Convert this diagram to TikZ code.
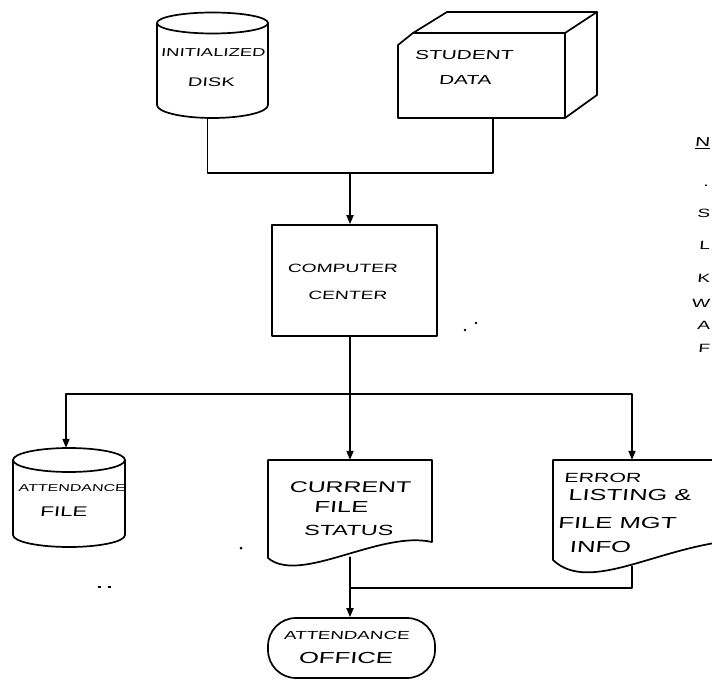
\documentclass[tikz,border=0pt]{standalone}
\usepackage{fontspec}
\newfontfamily\hand{Liberation Sans}[FakeStretch=1.6,FakeSlant=0.1]
\newcommand\handat[1]{\hand\fontsize{#1}{#1}\selectfont}
\usetikzlibrary{arrows.meta}

\tikzset{
  pen/.style={line width=1.7pt, line join=round, line cap=round},
  flow/.style={pen, -{Triangle[length=9pt,width=7pt]}},
  box/.style={draw, pen, inner sep=0pt},
  area/.style={inner sep=0pt},
  lbl/.style={inner sep=0pt},
}

\begin{document}
\begin{tikzpicture}[x=1pt,y=-1pt]
\useasboundingbox (0,0) rectangle (712,682);
\clip (0,0) rectangle (712,682);

% inputs
\node[area, minimum width=111pt, minimum height=105pt] (ini) at (212.5,65.5) {};
\draw[pen] (212.5,23) ellipse [x radius=55.5, y radius=10.5];
\draw[pen] (157,23) -- (157,105) arc[start angle=180, end angle=0, x radius=55.5, y radius=13] -- (268,23);
\node[lbl, font=\handat{11.5}] (ini-1) at (213,53) {INITIALIZED};
\node[lbl, font=\handat{12.5}] (ini-2) at (211,82) {DISK};

\node[area, minimum width=167pt, minimum height=85pt] (sd) at (481.5,75.5) {};
\draw[pen] (398,45) -- (413,33) -- (565,33) -- (565,118) -- (398,118) -- cycle;
\draw[pen] (413,33) -- (447,12) -- (597,12) -- (565,33);
\draw[pen] (597,12) -- (597,95) -- (565,118);
\node[lbl, font=\handat{13}] (sd-1) at (464,55) {STUDENT};
\node[lbl, font=\handat{13}] (sd-2) at (465,80) {DATA};

% processing
\node[box, minimum width=165pt, minimum height=111pt] (cc) at (354.5,280.5) {};
\node[lbl, font=\handat{12}] (cc-1) at (342.5,268) {COMPUTER};
\node[lbl, font=\handat{12}] (cc-2) at (347.5,295) {CENTER};

% outputs
\node[area, minimum width=112pt, minimum height=99pt] (att) at (69,497.5) {};
\draw[pen] (69,460) ellipse [x radius=56, y radius=12];
\draw[pen] (13,460) -- (13,535) arc[start angle=180, end angle=0, x radius=56, y radius=12] -- (125,460);
\node[lbl, font=\handat{10}] (att-1) at (72,488) {ATTENDANCE};
\node[lbl, font=\handat{14}] (att-2) at (63.5,512) {FILE};

\node[area, minimum width=164pt, minimum height=100pt] (cur) at (350,510) {};
\draw[pen] (432,542) -- (432,460) -- (268,460) -- (268,558) .. controls (300,585) and (380,530) .. (432,542);
\node[lbl, font=\handat{15.5}] (cur-1) at (350,487) {CURRENT};
\node[lbl, font=\handat{16}] (cur-2) at (341,507) {FILE};
\node[lbl, font=\handat{14.7}] (cur-3) at (348.5,530) {STATUS};

\node[area, minimum width=187pt, minimum height=100pt] (err) at (646.5,510) {};
\draw[pen] (740,460) -- (553,460) -- (553,560) .. controls (590,595) and (660,545) .. (740,540);
\node[lbl, font=\handat{13.3}] (err-1) at (602.5,478) {ERROR};
\node[lbl, font=\handat{15.9}] (err-2) at (629.5,495) {LISTING \&};
\node[lbl, font=\handat{16}] (err-3) at (617,523) {FILE MGT};
\node[lbl, font=\handat{16}] (err-4) at (600,547) {INFO};

\node[box, rounded corners=28pt, minimum width=167pt, minimum height=60pt] (off) at (351.5,648) {};
\node[lbl, font=\handat{11.7}] (off-1) at (346.5,635) {ATTENDANCE};
\node[lbl, font=\handat{16}] (off-2) at (345.5,658) {OFFICE};

% connectors
\coordinate (j1) at (350,173);
\coordinate (j2) at (350,394);
\coordinate (j3) at (350,588);
\draw[pen] ([xshift=-5pt]ini.south) |- (j1) -| ([xshift=11.5pt]sd.south);
\draw[flow] (j1) -- (j1 |- cc.north);
\draw[flow] (cc.south -| cur.north) -- (cur.north);
\draw[flow] (j2) -| ([xshift=-3pt]att.north);
\draw[flow] (j2) -| ([xshift=-14.5pt]err.north);
\draw[pen] ([xshift=-14.5pt,yshift=-6pt]err.south) |- (j3);
\draw[flow] ([yshift=3pt]cur.south) -- (cur.south |- off.north);

% margin notes at the right edge
\node[lbl, anchor=east, font=\handat{13}] (n-1) at (710,143) {\underline{N}};
\node[lbl, anchor=east, font=\handat{13}] (n-2) at (709,186) {.};
\node[lbl, anchor=east, font=\handat{12}] (n-3) at (710,213) {S};
\node[lbl, anchor=east, font=\handat{12}] (n-4) at (710,245) {L};
\node[lbl, anchor=east, font=\handat{12}] (n-5) at (710,278) {K};
\node[lbl, anchor=east, font=\handat{12}] (n-6) at (710,303) {W};
\node[lbl, anchor=east, font=\handat{12}] (n-7) at (710,325) {A};
\node[lbl, anchor=east, font=\handat{12}] (n-8) at (710,348) {F};

% specks
\fill (465,330) circle (1.3pt);
\fill (476,323) circle (1.3pt);
\fill (241,548) circle (1.5pt);
\draw[line width=1.2pt] (98,587) -- (101,587) (108,587) -- (111,587);
\end{tikzpicture}
\end{document}
